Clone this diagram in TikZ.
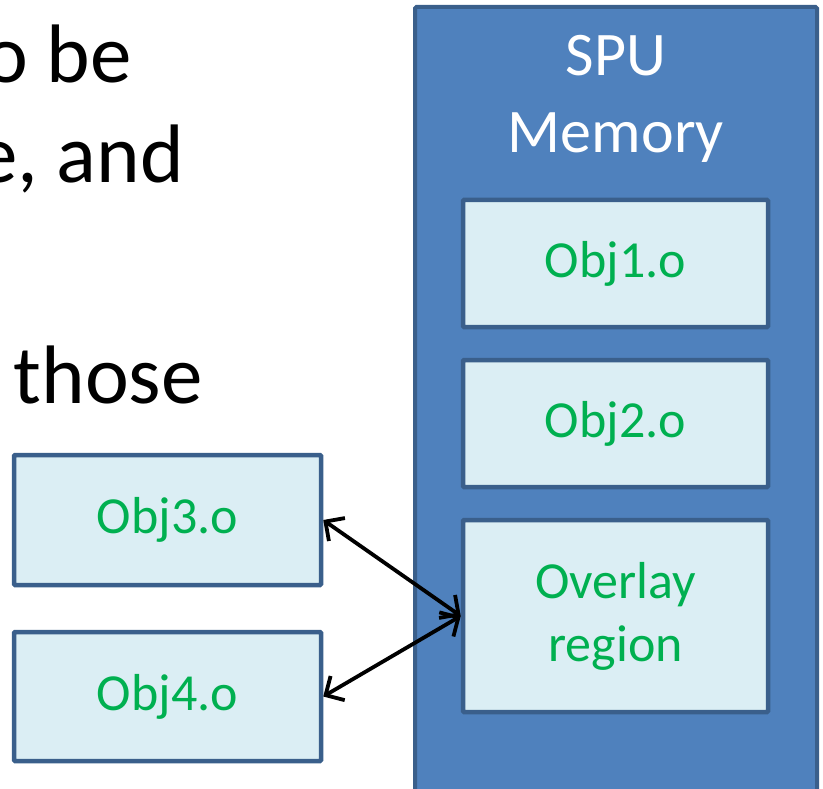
\documentclass[tikz,border=0pt]{standalone}
\usepackage{fontspec}
\setmainfont{Carlito}
\usetikzlibrary{arrows.meta}

\definecolor{spublue}{HTML}{4F81BD}
\definecolor{spuedge}{HTML}{3A5F8B}
\definecolor{objfill}{HTML}{DBEEF4}
\definecolor{objtext}{HTML}{00B050}

\begin{document}
\begin{tikzpicture}[x=1pt, y=-1pt,
    objbox/.style={draw=spuedge, fill=objfill, line width=4.5pt, rounded corners=1pt,
      minimum width=305pt, text=objtext, align=center,
      font=\fontsize{52}{63}\selectfont},
    bodytext/.style={anchor=base east, inner sep=0pt, font=\fontsize{83}{100}\selectfont},
    link/.style={{Straight Barb[length=14pt,width=28pt]}-{Straight Barb[length=14pt,width=28pt]},
      line width=3.8pt, line cap=round}]
  \useasboundingbox (0,0) rectangle (823,789);
  \clip (0,0) rectangle (823,789);

  % text of the slide, cut at the left
  \node[bodytext] (line1) at (132,83) {o be};
  \node[bodytext] (line2) at (184,183) {e, and};
  \node[bodytext] (line3) at (203,403) {those};

  % local store
  \draw[draw=spuedge, fill=spublue, line width=4pt, rounded corners=1.5pt] (415,7) rectangle (817,810);
  \node[text=white, align=center, font=\fontsize{62}{77}\selectfont, anchor=base] (spu) at (616,153) {SPU\\Memory};

  \node[objbox, minimum height=127pt] (obj1) at (615.5,263.5) {Obj1.o};
  \node[objbox, minimum height=127pt] (obj2) at (615.5,423.5) {Obj2.o};
  \node[objbox, minimum height=192pt] (overlay) at (615.5,616) {Overlay\\region};

  % objects that share the overlay
  \node[objbox, minimum width=307pt, minimum height=130pt] (obj3) at (167.5,520) {Obj3.o};
  \node[objbox, minimum width=307pt, minimum height=129pt] (obj4) at (167.5,696.5) {Obj4.o};

  \draw[link] (obj3.east) -- (overlay.west);
  \draw[link] (obj4.east) -- (overlay.west);
\end{tikzpicture}
\end{document}
